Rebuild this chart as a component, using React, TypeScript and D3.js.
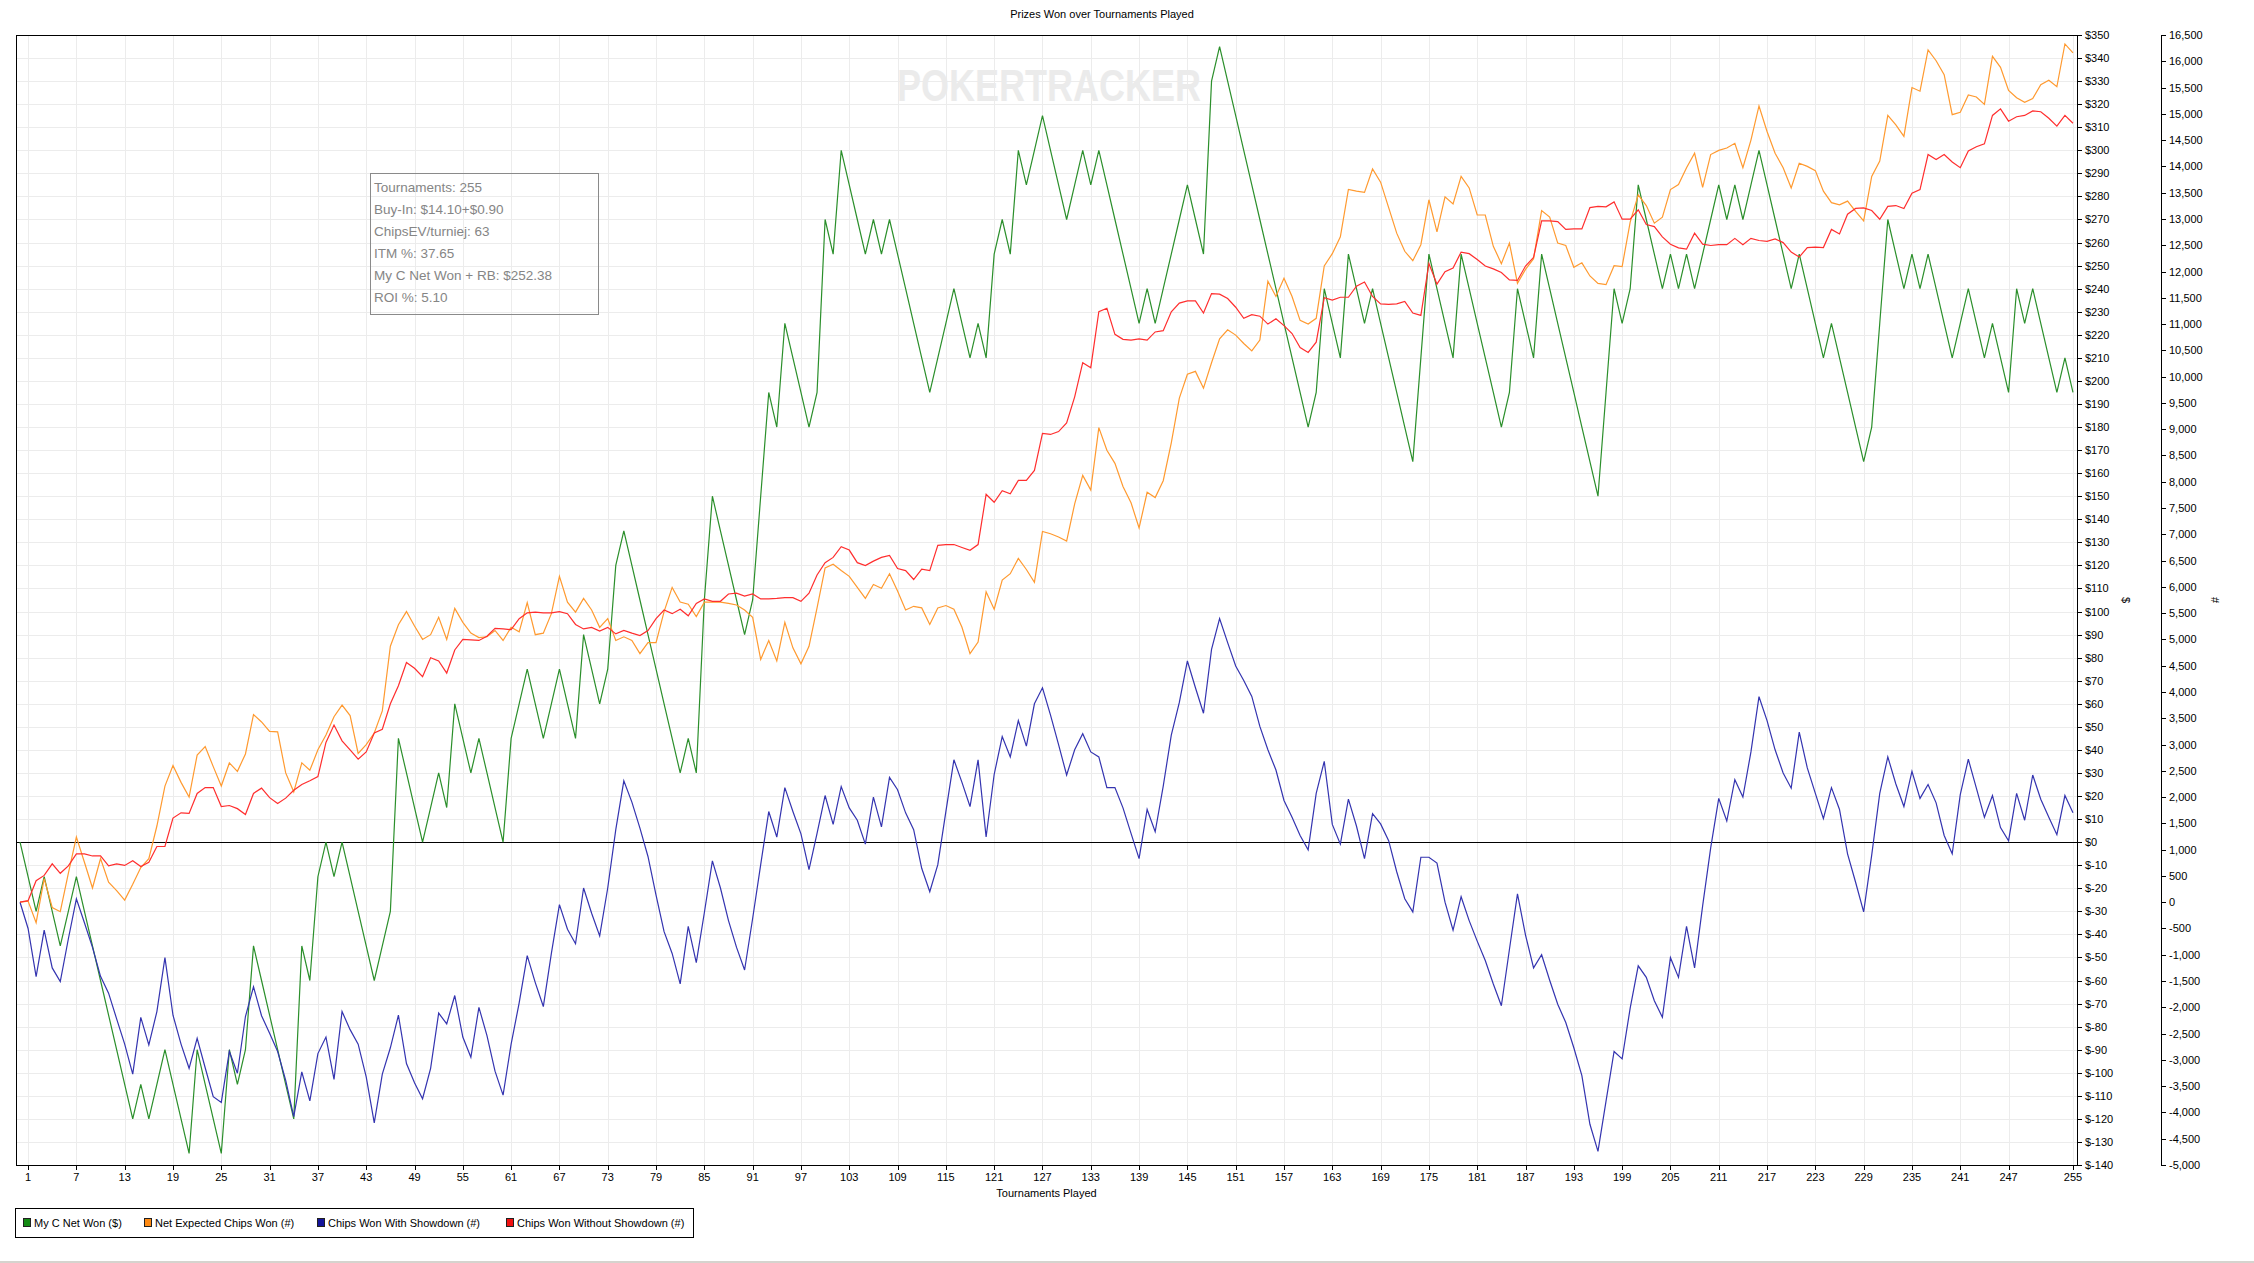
import React, { useEffect } from 'react';
import * as d3 from 'd3';

// tournament index 0 = starting point, then one value per tournament played
const myNetWon = [
  0, -15, -30, -15, -30, -45, -30, -15, -30, -45, -60, -75, -90, -105, -120, -105,
  -120, -105, -90, -105, -120, -135, -90, -105, -120, -135, -90, -105, -90, -45, -60, -75,
  -90, -105, -120, -45, -60, -15, 0, -15, 0, -15, -30, -45, -60, -45, -30, 45,
  30, 15, 0, 15, 30, 15, 60, 45, 30, 45, 30, 15, 0, 45, 60, 75,
  60, 45, 60, 75, 60, 45, 90, 75, 60, 75, 120, 135, 120, 105, 90, 75,
  60, 45, 30, 45, 30, 105, 150, 135, 120, 105, 90, 105, 150, 195, 180, 225,
  210, 195, 180, 195, 270, 255, 300, 285, 270, 255, 270, 255, 270, 255, 240, 225,
  210, 195, 210, 225, 240, 225, 210, 225, 210, 255, 270, 255, 300, 285, 300, 315,
  300, 285, 270, 285, 300, 285, 300, 285, 270, 255, 240, 225, 240, 225, 240, 255,
  270, 285, 270, 255, 330, 345, 330, 315, 300, 285, 270, 255, 240, 225, 210, 195,
  180, 195, 240, 225, 210, 255, 240, 225, 240, 225, 210, 195, 180, 165, 210, 255,
  240, 225, 210, 255, 240, 225, 210, 195, 180, 195, 240, 225, 210, 255, 240, 225,
  210, 195, 180, 165, 150, 195, 240, 225, 240, 285, 270, 255, 240, 255, 240, 255,
  240, 255, 270, 285, 270, 285, 270, 285, 300, 285, 270, 255, 240, 255, 240, 225,
  210, 225, 210, 195, 180, 165, 180, 225, 270, 255, 240, 255, 240, 255, 240, 225,
  210, 225, 240, 225, 210, 225, 210, 195, 240, 225, 240, 225, 210, 195, 210, 195,
];

const netExpectedChips = [
  0, 20, -390, 450, -100, -180, 550, 1240, 760, 270, 830, 380, 220, 40, 340, 660,
  830, 1450, 2210, 2600, 2280, 2000, 2800, 2960, 2580, 2210, 2650, 2490, 2820, 3570, 3430, 3250,
  3240, 2460, 2100, 2650, 2510, 2900, 3180, 3530, 3750, 3550, 2830, 3000, 3220, 3640, 4870, 5280,
  5530, 5255, 5000, 5090, 5420, 5000, 5590, 5325, 5120, 5035, 5050, 5170, 4980, 5230, 5145, 5700,
  5090, 5120, 5490, 6200, 5710, 5520, 5780, 5560, 5230, 5395, 4980, 5050, 4980, 4730, 4940, 4940,
  5530, 5990, 5710, 5670, 5435, 5710, 5710, 5710, 5685, 5655, 5560, 5420, 4620, 4980, 4590, 5325,
  4840, 4535, 4870, 5600, 6360, 6430, 6310, 6200, 5990, 5780, 6045, 5975, 6250, 5920, 5560, 5630,
  5600, 5285, 5600, 5645, 5575, 5230, 4730, 4950, 5905, 5575, 6130, 6250, 6540, 6330, 6085, 7055,
  7010, 6950, 6870, 7580, 8120, 7840, 9030, 8600, 8350, 7910, 7600, 7120, 7800, 7700, 8020, 8740,
  9590, 10045, 10100, 9780, 10265, 10720, 10890, 10790, 10630, 10490, 10695, 11815, 11525, 11870, 11525, 11070,
  11000, 11110, 12105, 12340, 12660, 13560, 13530, 13505, 13950, 13700, 13215, 12730, 12385, 12205, 12510, 13365,
  12755, 13420, 13285, 13810, 13590, 13075, 13075, 12480, 12150, 12540, 11775, 12040, 12245, 13160, 13035, 12540,
  12495, 12080, 12165, 11915, 11775, 11750, 12110, 12095, 12940, 13460, 13255, 12920, 13035, 13560, 13655, 13975,
  14250, 13600, 14225, 14305, 14350, 14440, 13975, 14500, 15150, 14665, 14250, 13975, 13590, 14060, 14000, 13920,
  13530, 13310, 13270, 13340, 13145, 12965, 13810, 14100, 14970, 14790, 14570, 15500, 15430, 16215, 16010, 15745,
  14985, 15030, 15360, 15320, 15180, 16095, 15885, 15445, 15305, 15220, 15290, 15555, 15640, 15515, 16330, 16160,
];

const chipsWithShowdown = [
  0, -500, -1415, -530, -1250, -1510, -700, 65, -390, -860, -1410, -1730, -2220, -2700, -3270, -2190,
  -2715, -2080, -1055, -2150, -2700, -3160, -2590, -3150, -3700, -3810, -2840, -3255, -2175, -1610, -2160, -2495,
  -2840, -3390, -4080, -3230, -3780, -2880, -2565, -3370, -2080, -2425, -2700, -3325, -4200, -3270, -2770, -2150,
  -3070, -3435, -3740, -3160, -2110, -2315, -1775, -2565, -2950, -2000, -2540, -3215, -3670, -2700, -1915, -1015,
  -1530, -1985, -975, -45, -515, -790, 270, -210, -640, 270, 1380, 2310, 1905, 1410, 870, 135,
  -560, -975, -1555, -460, -1150, -200, 785, 270, -350, -860, -1290, -310, 715, 1725, 1240, 2180,
  1725, 1300, 620, 1310, 2030, 1480, 2200, 1795, 1560, 1105, 2000, 1435, 2375, 2140, 1700, 1380,
  645, 200, 715, 1725, 2710, 2280, 1820, 2710, 1240, 2430, 3150, 2765, 3455, 2970, 3775, 4080,
  3560, 3000, 2420, 2900, 3205, 2860, 2765, 2180, 2180, 1795, 1310, 830, 1765, 1340, 2210, 3180,
  3800, 4590, 4080, 3595, 4810, 5395, 4940, 4495, 4220, 3915, 3345, 2900, 2515, 1935, 1615, 1270,
  995, 2070, 2680, 1480, 1105, 1960, 1450, 830, 1685, 1490, 1170, 580, 65, -185, 855, 855,
  745, 0, -530, 105, -350, -740, -1110, -1555, -1970, -900, 160, -625, -1250, -1000, -1485, -1940,
  -2290, -2770, -3300, -4225, -4740, -3785, -2840, -2980, -2015, -1210, -1430, -1875, -2190, -1055, -1430, -460,
  -1250, -70, 1035, 1975, 1545, 2330, 2000, 2860, 3910, 3455, 2900, 2460, 2170, 3235, 2555, 2070,
  1590, 2180, 1765, 920, 380, -185, 895, 2070, 2765, 2250, 1820, 2490, 1975, 2240, 1890, 1270,
  920, 2045, 2720, 2170, 1615, 2030, 1420, 1170, 2070, 1560, 2420, 1960, 1615, 1285, 2030, 1700,
];

const chipsWithoutShowdown = [
  0, 30, 410, 510, 730, 550, 690, 920, 920, 880, 880, 690, 730, 700, 790, 680,
  760, 1060, 1060, 1600, 1700, 1690, 2070, 2180, 2180, 1820, 1840, 1780, 1670, 2070, 2170, 1990,
  1880, 1980, 2130, 2240, 2310, 2390, 3040, 3370, 3070, 2900, 2720, 2860, 3220, 3290, 3775, 4120,
  4560, 4450, 4290, 4650, 4590, 4360, 4800, 5000, 4990, 4980, 5060, 5210, 5200, 5185, 5395, 5505,
  5520, 5505, 5505, 5530, 5490, 5285, 5200, 5230, 5160, 5230, 5105, 5170, 5120, 5075, 5170, 5395,
  5560, 5490, 5575, 5450, 5685, 5770, 5725, 5725, 5865, 5880, 5825, 5865, 5770, 5770, 5780, 5795,
  5795, 5725, 5880, 6225, 6460, 6560, 6765, 6700, 6460, 6405, 6490, 6560, 6600, 6350, 6310, 6140,
  6335, 6310, 6790, 6805, 6805, 6750, 6695, 6805, 7760, 7610, 7830, 7770, 8025, 8025, 8215, 8920,
  8900, 8955, 9120, 9615, 10265, 10170, 11235, 11300, 10805, 10710, 10695, 10720, 10695, 10850, 10875, 11235,
  11400, 11440, 11440, 11210, 11580, 11570, 11485, 11320, 11110, 11180, 11150, 11000, 11100, 10970, 10820, 10555,
  10460, 10655, 11500, 11455, 11510, 11510, 11720, 11800, 11525, 11385, 11375, 11385, 11430, 11210, 11165, 12150,
  11760, 11995, 12065, 12370, 12340, 12230, 12105, 12050, 11980, 11840, 11830, 12105, 12270, 12965, 12965, 12950,
  12800, 12810, 12810, 13215, 13240, 13230, 13325, 12995, 12995, 13175, 12895, 12855, 12660, 12520, 12450, 12425,
  12730, 12520, 12495, 12510, 12510, 12630, 12510, 12630, 12590, 12575, 12620, 12550, 12370, 12275, 12455, 12465,
  12455, 12800, 12715, 13090, 13200, 13210, 13160, 12995, 13240, 13255, 13200, 13490, 13560, 14225, 14130, 14225,
  14085, 13975, 14295, 14375, 14430, 14970, 15095, 14860, 14945, 14970, 15055, 15040, 14915, 14765, 14970, 14820,
];

const tournamentTicks = [1, 7, 13, 19, 25, 31, 37, 43, 49, 55, 61, 67, 73, 79, 85, 91, 97, 103, 109, 115, 121,
  127, 133, 139, 145, 151, 157, 163, 169, 175, 181, 187, 193, 199, 205, 211, 217, 223, 229, 235, 241, 247, 255];

const statsLines = [
  'Tournaments: 255',
  'Buy-In: $14.10+$0.90',
  'ChipsEV/turniej: 63',
  'ITM %: 37.65',
  'My C Net Won + RB: $252.38',
  'ROI %: 5.10',
];

const seriesInfo = [
  { name: 'My C Net Won ($)', axis: 'usd', line: '#2b8f2b', swatch: '#138a13', values: myNetWon },
  { name: 'Net Expected Chips Won (#)', axis: 'chips', line: '#ff9a30', swatch: '#ff8a12', values: netExpectedChips },
  { name: 'Chips Won With Showdown (#)', axis: 'chips', line: '#3434b0', swatch: '#14149a', values: chipsWithShowdown },
  { name: 'Chips Won Without Showdown (#)', axis: 'chips', line: '#ff2e2e', swatch: '#f01010', values: chipsWithoutShowdown },
];

const legendX = [23, 144, 317, 506];

const W = 2254;
const H = 1263;
const left = 16;
const right = 2077;
const top = 35;
const bottom = 1165;
const FONT = '"Liberation Sans", Arial, sans-serif';

export default function App() {
  useEffect(() => {
    document.body.style.margin = '0';
  }, []);

  const x = d3.scaleLinear().domain([-0.5, 255.5]).range([left, right]);
  const yUsd = d3.scaleLinear().domain([-140, 350]).range([bottom, top]);
  const yChips = d3.scaleLinear().domain([-5000, 16500]).range([bottom, top]);

  const usdTicks = d3.range(-140, 351, 10);
  const chipTicks = d3.range(-5000, 16501, 500);
  const fmtChips = (v: number) => d3.format(',')(v).replace('\u2212', '-');

  const px = (v: number) => Math.round(v) + 0.5;

  const makeLine = (axis: string) =>
    d3.line<number>()
      .x((_, i) => x(i))
      .y(d => (axis === 'usd' ? yUsd(d) : yChips(d)));

  const chipsAxisX = 2161;

  return (
    <svg width={W} height={H} style={{ display: 'block', background: '#fff' }} fontFamily={FONT}>
      <text x={1102} y={18} fontSize={11} textAnchor="middle" fill="#000">Prizes Won over Tournaments Played</text>

      {/* grid */}
      <g stroke="#ececec" strokeWidth={1} shapeRendering="crispEdges">
        {usdTicks.map(t => (
          <line key={'h' + t} x1={left} x2={right} y1={px(yUsd(t))} y2={px(yUsd(t))} />
        ))}
        {tournamentTicks.map(t => (
          <line key={'v' + t} x1={px(x(t))} x2={px(x(t))} y1={top} y2={bottom} />
        ))}
      </g>

      {/* watermark */}
      <text x={897} y={101} fontSize={44} fontWeight="bold" fill="#ebebeb"
        textLength={304} lengthAdjust="spacingAndGlyphs" fontFamily={FONT}>POKERTRACKER</text>

      {/* stats box */}
      <rect x={370.5} y={173.5} width={228} height={141} fill="none" stroke="#8a8a8a" shapeRendering="crispEdges" />
      {statsLines.map((s, i) => (
        <text key={s} x={374} y={192 + i * 22} fontSize={13.5} fill="#858585">{s}</text>
      ))}

      {/* zero line */}
      <line x1={left} x2={right} y1={px(yUsd(0))} y2={px(yUsd(0))} stroke="#000" shapeRendering="crispEdges" />

      {/* series */}
      {seriesInfo.map(s => (
        <path key={s.name} d={makeLine(s.axis)(s.values) || ''} fill="none" stroke={s.line}
          strokeWidth={1.2} strokeLinejoin="miter" />
      ))}

      {/* plot frame */}
      <rect x={left + 0.5} y={top + 0.5} width={right - left} height={bottom - top} fill="none"
        stroke="#000" shapeRendering="crispEdges" />

      {/* x axis */}
      <g shapeRendering="crispEdges">
        {tournamentTicks.map(t => (
          <g key={'xt' + t}>
            <line x1={px(x(t))} x2={px(x(t))} y1={bottom} y2={bottom + 5} stroke="#000" />
            <text x={x(t)} y={1181} fontSize={11} textAnchor="middle" fill="#000">{t}</text>
          </g>
        ))}
      </g>
      <text x={(left + right) / 2} y={1197} fontSize={11} textAnchor="middle" fill="#000">Tournaments Played</text>

      {/* $ axis */}
      <g shapeRendering="crispEdges">
        {usdTicks.map(t => (
          <g key={'ut' + t}>
            <line x1={right} x2={right + 5} y1={px(yUsd(t))} y2={px(yUsd(t))} stroke="#000" />
            <text x={right + 8} y={yUsd(t) + 4} fontSize={11} fill="#000">{'$' + t}</text>
          </g>
        ))}
      </g>
      <text transform={`translate(2122,600) rotate(90)`} fontSize={11} textAnchor="middle" fill="#000">$</text>

      {/* # axis */}
      <g shapeRendering="crispEdges">
        <line x1={chipsAxisX + 0.5} x2={chipsAxisX + 0.5} y1={top} y2={bottom + 1} stroke="#000" />
        {chipTicks.map(t => (
          <g key={'ct' + t}>
            <line x1={chipsAxisX} x2={chipsAxisX + 5} y1={px(yChips(t))} y2={px(yChips(t))} stroke="#000" />
            <text x={chipsAxisX + 8} y={yChips(t) + 4} fontSize={11} fill="#000">{fmtChips(t)}</text>
          </g>
        ))}
      </g>
      <text transform={`translate(2211,600) rotate(90)`} fontSize={11} textAnchor="middle" fill="#000">#</text>

      {/* legend */}
      <rect x={15.5} y={1208.5} width={678} height={29} fill="none" stroke="#000" shapeRendering="crispEdges" />
      {seriesInfo.map((s, i) => (
        <g key={'lg' + s.name}>
          <rect x={legendX[i] + 0.5} y={1218.5} width={7} height={8} fill={s.swatch} stroke="#202020"
            shapeRendering="crispEdges" />
          <text x={legendX[i] + 11} y={1227} fontSize={11} fill="#000">{s.name}</text>
        </g>
      ))}

      <rect x={0} y={1261} width={W} height={2} fill="#d6d3ce" />
    </svg>
  );
}
